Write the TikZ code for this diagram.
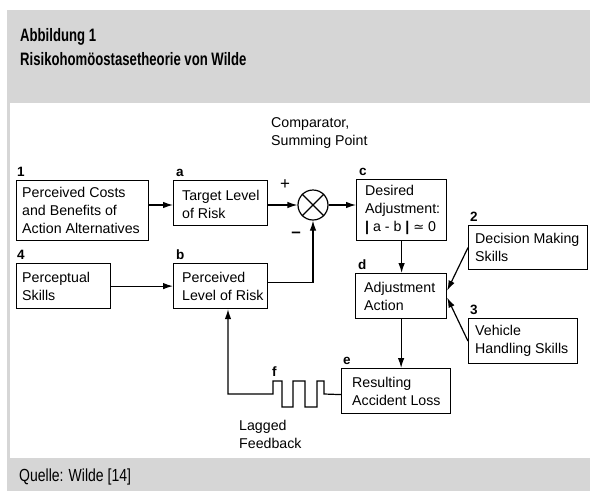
\documentclass[tikz,border=0pt]{standalone}
\usepackage{fontspec}
\setmainfont{Liberation Sans}
\newfontfamily\condfont[FakeStretch=0.8]{Liberation Sans}
\newfontfamily\titlefont[FakeStretch=0.73]{Liberation Sans}
\newfontfamily\symfont{DejaVu Sans}
\usetikzlibrary{arrows.meta}
\definecolor{framegrey}{RGB}{214,214,214}
\tikzset{
  box/.style={draw, line width=1.2pt, minimum width=#1, anchor=north west, inner sep=0pt},
  txt/.style={inner sep=0pt, align=left, font=\fontsize{14.2}{18}\selectfont},
  lbl/.style={inner sep=0pt, anchor=south west, font=\fontsize{13.5}{13.5}\selectfont\bfseries},
  conn/.style={line width=1.2pt},
  arr/.style={line width=1.2pt, -{Latex[length=10pt,width=6.5pt]}},
}
\begin{document}
\begin{tikzpicture}[x=1pt,y=-1pt]
\useasboundingbox (0,0) rectangle (590,491);
\fill[white] (0,0) rectangle (590,491);
\fill[framegrey] (7,10) rectangle (590,491);
\fill[white] (10,103) rectangle (590,458);
% header / footer
\node[inner sep=0pt, anchor=base west, font=\titlefont\bfseries\fontsize{18}{18}\selectfont] (h1) at (20,41.5) {Abbildung 1};
\node[inner sep=0pt, anchor=base west, font=\titlefont\bfseries\fontsize{18}{18}\selectfont] (h2) at (20,65.5) {Risikohomöostasetheorie von Wilde};
\node[inner sep=0pt, anchor=base west, font=\condfont\fontsize{17.5}{17.5}\selectfont] (src) at (19,481.5) {Quelle: Wilde [14]};
% boxes
\node[box=132pt, minimum height=60pt] (n1) at (16,180) {};
\node[box=94pt, minimum height=45pt] (na) at (173,180) {};
\node[box=90pt, minimum height=61pt] (nc) at (356,179) {};
\node[box=94pt, minimum height=45pt] (n4) at (16,263) {};
\node[box=94pt, minimum height=45pt] (nb) at (173,263) {};
\node[box=119pt, minimum height=44pt] (n2) at (468,225) {};
\node[box=91pt, minimum height=45pt] (nd) at (355,273) {};
\node[box=109pt, minimum height=45pt] (n3) at (468,318) {};
\node[box=109pt, minimum height=45pt] (ne) at (341,368) {};
\node[draw, circle, line width=1.2pt, minimum size=30pt, inner sep=0pt] (cmp) at (313,205) {};
\draw[conn] (cmp.north west) -- (cmp.south east) (cmp.north east) -- (cmp.south west);
% box texts
\node[txt, anchor=west] (t1) at ([xshift=6pt]n1.west) {Perceived Costs\\and Benefits of\\Action Alternatives};
\node[txt, anchor=west] (ta) at ([shift={(9pt,-1.5pt)}]na.west) {Target Level\\of Risk};
\node[txt, anchor=west] (tc) at ([xshift=9pt]nc.west) {Desired\\Adjustment:\\{\bfseries|} a - b {\bfseries|} {\symfont\fontsize{13}{13}\selectfont ≃} 0};
\node[txt, anchor=west] (t4) at ([xshift=6pt]n4.west) {Perceptual\\Skills};
\node[txt, anchor=west] (tb) at ([xshift=9pt]nb.west) {Perceived\\Level of Risk};
\node[txt, anchor=west] (t2) at ([xshift=7pt]n2.west) {Decision Making\\Skills};
\node[txt, anchor=west] (td) at ([xshift=9pt]nd.west) {Adjustment\\Action};
\node[txt, anchor=west] (t3) at ([xshift=7pt]n3.west) {Vehicle\\Handling Skills};
\node[txt, anchor=west] (te) at ([xshift=11pt]ne.west) {Resulting\\Accident Loss};
% letter labels
\node[lbl] (l1) at ([shift={(1pt,3pt)}]n1.north west) {1};
\node[lbl] (la) at ([shift={(3pt,3pt)}]na.north west) {a};
\node[lbl] (lc) at ([shift={(3pt,3pt)}]nc.north west) {c};
\node[lbl] (l4) at ([shift={(1pt,3pt)}]n4.north west) {4};
\node[lbl] (lb) at ([shift={(3pt,3pt)}]nb.north west) {b};
\node[lbl] (l2) at ([shift={(2pt,3pt)}]n2.north west) {2};
\node[lbl] (ld) at ([shift={(3pt,3pt)}]nd.north west) {d};
\node[lbl] (l3) at ([shift={(2pt,3pt)}]n3.north west) {3};
\node[lbl] (le) at ([shift={(2pt,3pt)}]ne.north west) {e};
\node[lbl] (lf) at (272,377) {f};
% free texts
\node[txt, anchor=north west] (cmptxt) at (271,117) {Comparator,\\Summing Point};
\node[txt, anchor=north west] (lagtxt) at (239,420) {Lagged\\Feedback};
\node[inner sep=0pt, font=\fontsize{17}{17}\selectfont] (plus) at (285,185) {+};
\node[inner sep=0pt, font=\fontsize{17}{17}\selectfont\bfseries] (minus) at (296,235) {–};
% connectors
\draw[arr] (n1.east |- cmp.center) -- (na.west |- cmp.center);
\draw[arr] (na.east |- cmp.center) -- (cmp.west);
\draw[arr] (cmp.east) -- (nc.west |- cmp.center);
\draw[arr] ([yshift=3.5pt]nb.east) -| (cmp.south);
\draw[arr] (n4.east) -- (nb.west);
\draw[arr] (nc.south) -- (nc.south |- nd.north);
\draw[arr] (nd.south) -- (nd.south |- ne.north);
\draw[arr] (n2.west) -- ([yshift=5.5pt]nd.east);
\draw[arr] (n3.west) -- ([yshift=-1.5pt]nd.east);
\coordinate (fb) at (228,394);
\draw[arr] ([yshift=-3.5pt]ne.west) -- (324,394) -- (324,381) -- (317,381) -- (317,407) -- (305,407) -- (305,381) -- (293,381) -- (293,407) -- (282,407) -- (282,381) -- (273,381) -- (273,394) -- (fb) -- (fb |- nb.south);
\end{tikzpicture}
\end{document}
